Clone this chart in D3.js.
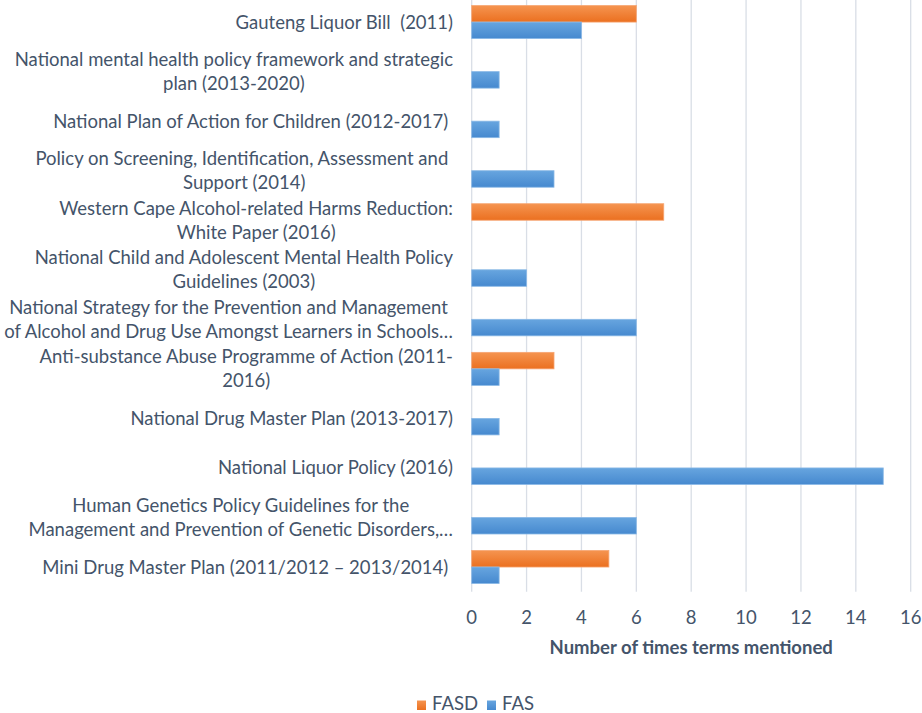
<!DOCTYPE html>
<html>
<head>
<meta charset="utf-8">
<script src="https://cdn.jsdelivr.net/npm/d3@7"></script>
<style>
  body { margin: 0; background: #fff; }
  svg { display: block; }
  text { font-family: Lato, "Open Sans", sans-serif; fill: #44546a; white-space: pre; }
</style>
</head>
<body>
<svg id="chart" width="922" height="713"></svg>
<script>
// categories, top to bottom, already wrapped the way the picture shows them
var categories = [
  ["Gauteng Liquor Bill  (2011)"],
  ["National mental health policy framework and strategic", "plan (2013-2020)"],
  ["National Plan of Action for Children (2012-2017) "],
  ["Policy on Screening, Identification, Assessment and ", "Support (2014)"],
  ["Western Cape Alcohol-related Harms Reduction:", "White Paper (2016)"],
  ["National Child and Adolescent Mental Health Policy", "Guidelines (2003)"],
  ["National Strategy for the Prevention and Management", "of Alcohol and Drug Use Amongst Learners in Schools\u2026"],
  ["Anti-substance Abuse Programme of Action (2011-", "2016)"],
  ["National Drug Master Plan (2013-2017)"],
  ["National Liquor Policy (2016)"],
  ["Human Genetics Policy Guidelines for the", "Management and Prevention of Genetic Disorders,\u2026"],
  ["Mini Drug Master Plan (2011/2012 \u2013 2013/2014) "]
]
var seriesNames = ["FASD", "FAS"]
var fasd = [6, 0, 0, 0, 7, 0, 0, 3, 0, 0, 0, 5]
var fas  = [4, 1, 1, 3, 0, 2, 6, 1, 1, 15, 6, 1]
var xTicks = [0, 2, 4, 6, 8, 10, 12, 14, 16]

var colors = {FASD: ["#f59450", "#eb7020"], FAS: ["#67a5df", "#4689cf"]}

var svg = d3.select("#chart")

var defs = svg.append("defs")
seriesNames.forEach(function(s){
  var g = defs.append("linearGradient")
  .attr("id", "grad" + s)
  .attr("x1", 0).attr("y1", 0).attr("x2", 0).attr("y2", 1)
  g.append("stop").attr("offset", "0%").attr("stop-color", colors[s][0])
  g.append("stop").attr("offset", "100%").attr("stop-color", colors[s][1])
})

var plotLeft = 471.7, plotRight = 910.7, plotTop = -2.7, plotBottom = 591.8
var fontSize = 18.5

var x = d3.scaleLinear()
.domain([0, 16])
.range([plotLeft, plotRight])

var y = d3.scaleBand()
.domain(d3.range(categories.length))
.range([plotTop, plotBottom])
.padding(0)

var ySub = d3.scaleBand()
.domain(seriesNames)
.range([y.bandwidth() / 6, y.bandwidth() * 5 / 6])

// gridlines
svg.append("g")
.selectAll("line")
.data(xTicks)
.enter()
.append("line")
.attr("x1", function(d){ return x(d) })
.attr("x2", function(d){ return x(d) })
.attr("y1", 0)
.attr("y2", plotBottom)
.attr("stroke", "#d9dee6")
.attr("stroke-width", 1.3)

var rows = categories.map(function(c, i){
  return {i: i, values: [{s: "FASD", v: fasd[i]}, {s: "FAS", v: fas[i]}]}
})

var rowG = svg.append("g")
.selectAll("g")
.data(rows)
.enter()
.append("g")
.attr("transform", function(d){ return "translate(0," + y(d.i) + ")" })

rowG.selectAll("rect")
.data(function(d){ return d.values.filter(function(e){ return e.v > 0 }) })
.enter()
.append("rect")
.attr("x", x(0))
.attr("y", function(d){ return ySub(d.s) })
.attr("width", function(d){ return x(d.v) - x(0) })
.attr("height", ySub.bandwidth())
.attr("fill", function(d){ return "url(#grad" + d.s + ")" })
.attr("stroke", function(d){ return d.s == "FASD" ? "#f7a572" : "#8ab9e6" })
.attr("stroke-width", 0.8)

// category labels: block right aligned, lines centred inside the block
var labelRight = 453, lineH = 24
var labelG = svg.append("g")
categories.forEach(function(lines, i){
  var cy = y(i) + y.bandwidth() / 2
  var g = labelG.append("g")
  var texts = lines.map(function(l, j){
    return g.append("text")
    .attr("y", cy + (j - (lines.length - 1) / 2) * lineH)
    .attr("dy", "0.35em")
    .attr("text-anchor", "middle")
    .style("font-size", fontSize + "px")
    .text(l)
  })
  var w = d3.max(texts, function(t){ return t.node().getComputedTextLength() })
  texts.forEach(function(t){ t.attr("x", labelRight - w / 2) })
})

// x tick labels
svg.append("g")
.selectAll("text")
.data(xTicks)
.enter()
.append("text")
.attr("x", function(d){ return x(d) })
.attr("y", 618)
.attr("dy", "0.35em")
.attr("text-anchor", "middle")
.style("font-size", fontSize + "px")
.text(function(d){ return d })

svg.append("text")
.attr("x", (plotLeft + plotRight) / 2)
.attr("y", 648)
.attr("dy", "0.35em")
.attr("text-anchor", "middle")
.style("font-size", fontSize + "px")
.style("font-weight", "bold")
.text("Number of times terms mentioned")

// legend
var legend = svg.append("g")
var lx = [417, 487]
seriesNames.forEach(function(s, i){
  legend.append("rect")
  .attr("x", lx[i]).attr("y", 700.5)
  .attr("width", 9).attr("height", 9.5)
  .attr("fill", "url(#grad" + s + ")")
  legend.append("text")
  .attr("x", lx[i] + 15).attr("y", 704)
  .attr("dy", "0.35em")
  .style("font-size", fontSize + "px")
  .text(s)
})
</script>
</body>
</html>
